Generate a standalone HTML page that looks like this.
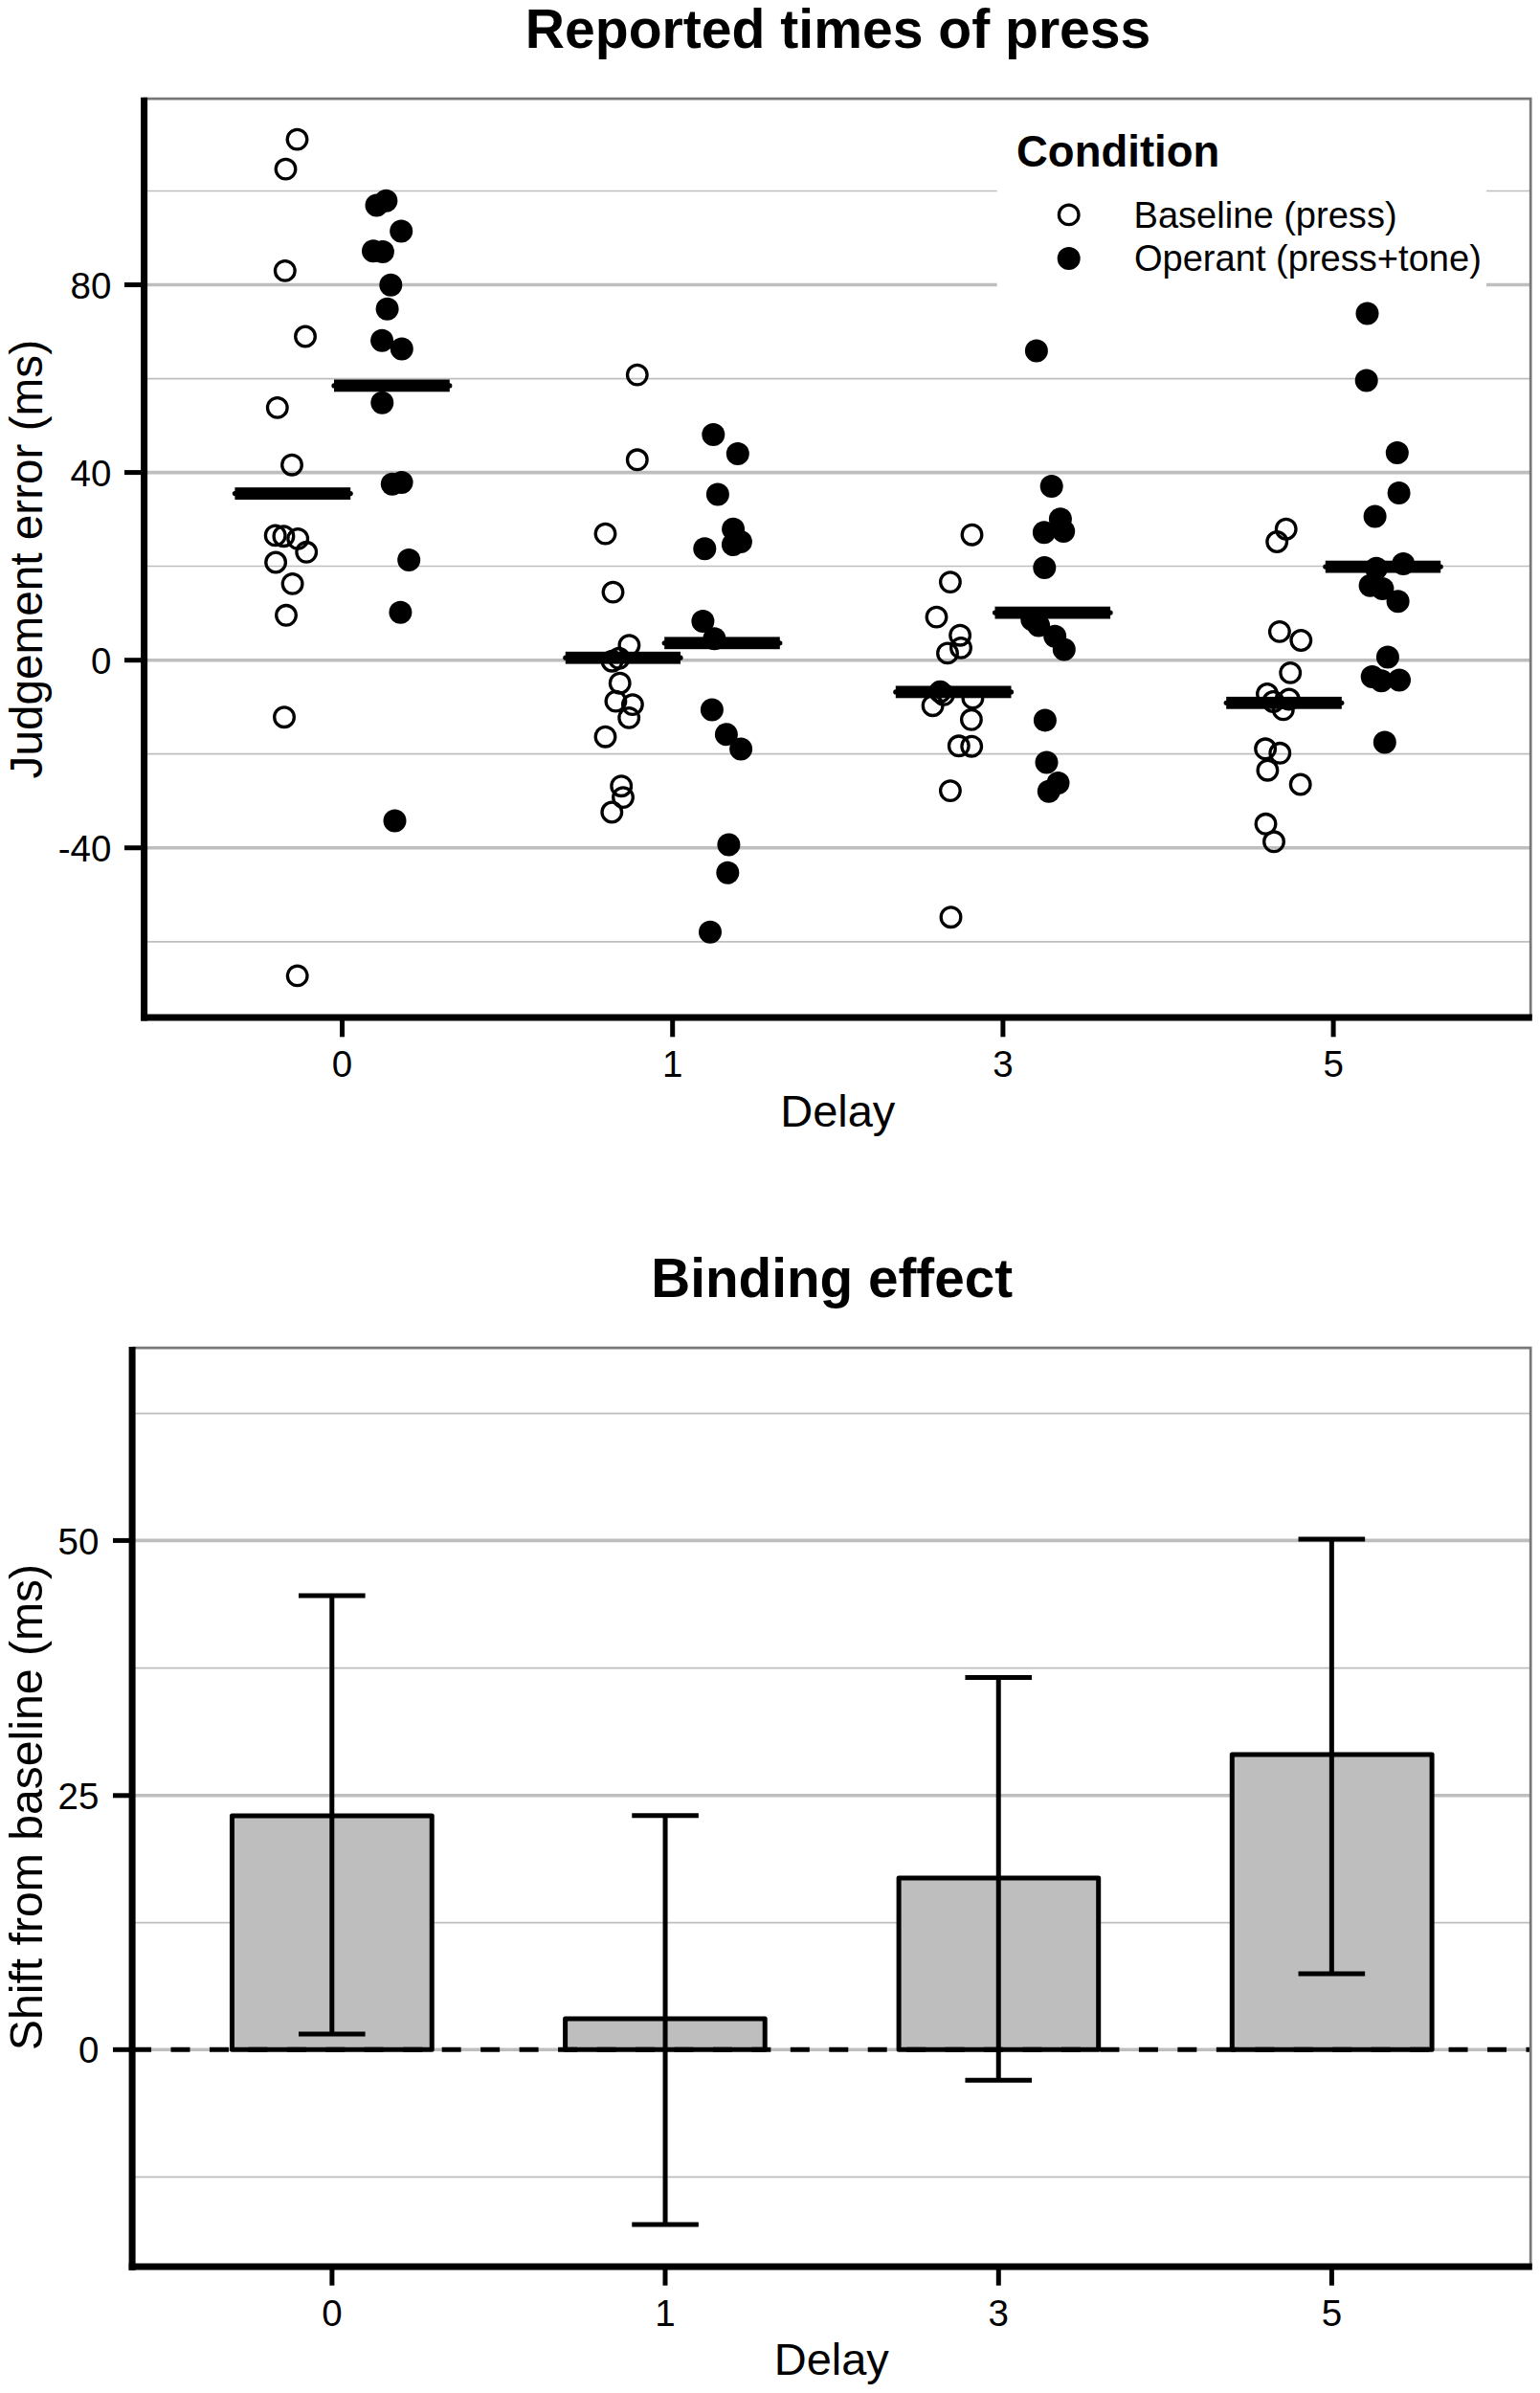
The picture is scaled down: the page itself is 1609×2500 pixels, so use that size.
<!DOCTYPE html>
<html><head><meta charset="utf-8"><title>Reported times of press / Binding effect</title>
<style>
html,body{margin:0;padding:0;background:#fff;}
svg{display:block;}
svg text{font-family:"Liberation Sans", sans-serif;fill:#000;}
</style></head>
<body>
<svg width="1609" height="2500" viewBox="0 0 1609 2500">
<rect width="1609" height="2500" fill="#fff"/>
<g id="top">
<line x1="150.6" x2="1599.2" y1="199.5" y2="199.5" stroke="#bebebe" stroke-width="1.7"/>
<line x1="150.6" x2="1599.2" y1="395.6" y2="395.6" stroke="#bebebe" stroke-width="1.7"/>
<line x1="150.6" x2="1599.2" y1="591.5" y2="591.5" stroke="#bebebe" stroke-width="1.7"/>
<line x1="150.6" x2="1599.2" y1="787.6" y2="787.6" stroke="#bebebe" stroke-width="1.7"/>
<line x1="150.6" x2="1599.2" y1="983.8" y2="983.8" stroke="#bebebe" stroke-width="1.7"/>
<line x1="150.6" x2="1599.2" y1="297.55" y2="297.55" stroke="#bebebe" stroke-width="3.6"/>
<line x1="150.6" x2="1599.2" y1="493.6" y2="493.6" stroke="#bebebe" stroke-width="3.6"/>
<line x1="150.6" x2="1599.2" y1="689.7" y2="689.7" stroke="#bebebe" stroke-width="3.6"/>
<line x1="150.6" x2="1599.2" y1="885.75" y2="885.75" stroke="#bebebe" stroke-width="3.6"/>
<rect x="1041.7" y="118" width="511.3" height="185" fill="#fff"/>
<circle cx="310.5" cy="145.6" r="10.3" fill="none" stroke="#000" stroke-width="3.3"/>
<circle cx="298.5" cy="176.6" r="10.3" fill="none" stroke="#000" stroke-width="3.3"/>
<circle cx="297.8" cy="282.9" r="10.3" fill="none" stroke="#000" stroke-width="3.3"/>
<circle cx="319.0" cy="351.5" r="10.3" fill="none" stroke="#000" stroke-width="3.3"/>
<circle cx="289.8" cy="425.9" r="10.3" fill="none" stroke="#000" stroke-width="3.3"/>
<circle cx="305.0" cy="485.7" r="10.3" fill="none" stroke="#000" stroke-width="3.3"/>
<circle cx="287.7" cy="559.4" r="10.3" fill="none" stroke="#000" stroke-width="3.3"/>
<circle cx="296.4" cy="560.2" r="10.3" fill="none" stroke="#000" stroke-width="3.3"/>
<circle cx="311.2" cy="562.9" r="10.3" fill="none" stroke="#000" stroke-width="3.3"/>
<circle cx="320.2" cy="576.8" r="10.3" fill="none" stroke="#000" stroke-width="3.3"/>
<circle cx="288.1" cy="587.5" r="10.3" fill="none" stroke="#000" stroke-width="3.3"/>
<circle cx="305.6" cy="609.9" r="10.3" fill="none" stroke="#000" stroke-width="3.3"/>
<circle cx="299.0" cy="642.8" r="10.3" fill="none" stroke="#000" stroke-width="3.3"/>
<circle cx="297.0" cy="749.2" r="10.3" fill="none" stroke="#000" stroke-width="3.3"/>
<circle cx="310.7" cy="1019.4" r="10.3" fill="none" stroke="#000" stroke-width="3.3"/>
<circle cx="665.8" cy="391.6" r="10.3" fill="none" stroke="#000" stroke-width="3.3"/>
<circle cx="665.8" cy="480.3" r="10.3" fill="none" stroke="#000" stroke-width="3.3"/>
<circle cx="632.5" cy="557.6" r="10.3" fill="none" stroke="#000" stroke-width="3.3"/>
<circle cx="640.5" cy="618.6" r="10.3" fill="none" stroke="#000" stroke-width="3.3"/>
<circle cx="657.4" cy="674.1" r="10.3" fill="none" stroke="#000" stroke-width="3.3"/>
<circle cx="646.7" cy="687.8" r="10.3" fill="none" stroke="#000" stroke-width="3.3"/>
<circle cx="639.5" cy="690.7" r="10.3" fill="none" stroke="#000" stroke-width="3.3"/>
<circle cx="647.7" cy="713.7" r="10.3" fill="none" stroke="#000" stroke-width="3.3"/>
<circle cx="643.4" cy="732.6" r="10.3" fill="none" stroke="#000" stroke-width="3.3"/>
<circle cx="660.9" cy="736.1" r="10.3" fill="none" stroke="#000" stroke-width="3.3"/>
<circle cx="657.2" cy="749.9" r="10.3" fill="none" stroke="#000" stroke-width="3.3"/>
<circle cx="632.5" cy="769.7" r="10.3" fill="none" stroke="#000" stroke-width="3.3"/>
<circle cx="649.2" cy="821.2" r="10.3" fill="none" stroke="#000" stroke-width="3.3"/>
<circle cx="651.0" cy="833.1" r="10.3" fill="none" stroke="#000" stroke-width="3.3"/>
<circle cx="639.3" cy="848.5" r="10.3" fill="none" stroke="#000" stroke-width="3.3"/>
<circle cx="1015.5" cy="558.7" r="10.3" fill="none" stroke="#000" stroke-width="3.3"/>
<circle cx="992.9" cy="608.1" r="10.3" fill="none" stroke="#000" stroke-width="3.3"/>
<circle cx="978.5" cy="644.6" r="10.3" fill="none" stroke="#000" stroke-width="3.3"/>
<circle cx="1003.1" cy="663.7" r="10.3" fill="none" stroke="#000" stroke-width="3.3"/>
<circle cx="1004.0" cy="676.9" r="10.3" fill="none" stroke="#000" stroke-width="3.3"/>
<circle cx="990.0" cy="682.4" r="10.3" fill="none" stroke="#000" stroke-width="3.3"/>
<circle cx="974.6" cy="737.2" r="10.3" fill="none" stroke="#000" stroke-width="3.3"/>
<circle cx="1016.4" cy="729.4" r="10.3" fill="none" stroke="#000" stroke-width="3.3"/>
<circle cx="1014.9" cy="751.8" r="10.3" fill="none" stroke="#000" stroke-width="3.3"/>
<circle cx="1001.8" cy="779.3" r="10.3" fill="none" stroke="#000" stroke-width="3.3"/>
<circle cx="1015.2" cy="779.7" r="10.3" fill="none" stroke="#000" stroke-width="3.3"/>
<circle cx="992.9" cy="826.1" r="10.3" fill="none" stroke="#000" stroke-width="3.3"/>
<circle cx="993.5" cy="958.2" r="10.3" fill="none" stroke="#000" stroke-width="3.3"/>
<circle cx="986.0" cy="725.8" r="10.3" fill="none" stroke="#000" stroke-width="3.3"/>
<circle cx="982.3" cy="722.7" r="10.3" fill="none" stroke="#000" stroke-width="3.3"/>
<circle cx="1343.7" cy="552.7" r="10.3" fill="none" stroke="#000" stroke-width="3.3"/>
<circle cx="1334.2" cy="566.0" r="10.3" fill="none" stroke="#000" stroke-width="3.3"/>
<circle cx="1336.9" cy="659.9" r="10.3" fill="none" stroke="#000" stroke-width="3.3"/>
<circle cx="1359.3" cy="669.0" r="10.3" fill="none" stroke="#000" stroke-width="3.3"/>
<circle cx="1348.2" cy="702.9" r="10.3" fill="none" stroke="#000" stroke-width="3.3"/>
<circle cx="1324.0" cy="725.0" r="10.3" fill="none" stroke="#000" stroke-width="3.3"/>
<circle cx="1330.3" cy="733.0" r="10.3" fill="none" stroke="#000" stroke-width="3.3"/>
<circle cx="1346.8" cy="730.5" r="10.3" fill="none" stroke="#000" stroke-width="3.3"/>
<circle cx="1340.8" cy="741.4" r="10.3" fill="none" stroke="#000" stroke-width="3.3"/>
<circle cx="1322.1" cy="782.3" r="10.3" fill="none" stroke="#000" stroke-width="3.3"/>
<circle cx="1337.3" cy="786.8" r="10.3" fill="none" stroke="#000" stroke-width="3.3"/>
<circle cx="1324.4" cy="804.7" r="10.3" fill="none" stroke="#000" stroke-width="3.3"/>
<circle cx="1358.7" cy="819.5" r="10.3" fill="none" stroke="#000" stroke-width="3.3"/>
<circle cx="1322.5" cy="860.8" r="10.3" fill="none" stroke="#000" stroke-width="3.3"/>
<circle cx="1331.0" cy="879.3" r="10.3" fill="none" stroke="#000" stroke-width="3.3"/>
<path d="M970.7 722.7 A11.6 11.6 0 0 1 993.9 722.7 Z" fill="#000"/>
<circle cx="403.4" cy="209.7" r="12" fill="#000"/>
<circle cx="393.5" cy="214.4" r="12" fill="#000"/>
<circle cx="419.2" cy="241.4" r="12" fill="#000"/>
<circle cx="390.0" cy="262.3" r="12" fill="#000"/>
<circle cx="399.9" cy="262.9" r="12" fill="#000"/>
<circle cx="408.3" cy="297.7" r="12" fill="#000"/>
<circle cx="404.6" cy="322.7" r="12" fill="#000"/>
<circle cx="399.1" cy="355.8" r="12" fill="#000"/>
<circle cx="419.8" cy="364.6" r="12" fill="#000"/>
<circle cx="399.3" cy="420.7" r="12" fill="#000"/>
<circle cx="419.6" cy="503.9" r="12" fill="#000"/>
<circle cx="409.8" cy="505.8" r="12" fill="#000"/>
<circle cx="427.2" cy="585.1" r="12" fill="#000"/>
<circle cx="418.4" cy="639.7" r="12" fill="#000"/>
<circle cx="412.5" cy="857.5" r="12" fill="#000"/>
<circle cx="745.3" cy="454.0" r="12" fill="#000"/>
<circle cx="770.8" cy="474.0" r="12" fill="#000"/>
<circle cx="749.9" cy="516.5" r="12" fill="#000"/>
<circle cx="766.1" cy="552.7" r="12" fill="#000"/>
<circle cx="773.9" cy="566.0" r="12" fill="#000"/>
<circle cx="765.9" cy="569.1" r="12" fill="#000"/>
<circle cx="736.3" cy="573.2" r="12" fill="#000"/>
<circle cx="734.4" cy="649.0" r="12" fill="#000"/>
<circle cx="746.4" cy="667.3" r="12" fill="#000"/>
<circle cx="743.9" cy="741.5" r="12" fill="#000"/>
<circle cx="758.9" cy="767.2" r="12" fill="#000"/>
<circle cx="774.1" cy="782.6" r="12" fill="#000"/>
<circle cx="761.4" cy="882.4" r="12" fill="#000"/>
<circle cx="760.3" cy="911.8" r="12" fill="#000"/>
<circle cx="742.0" cy="973.8" r="12" fill="#000"/>
<circle cx="1082.9" cy="366.6" r="12" fill="#000"/>
<circle cx="1098.7" cy="508.0" r="12" fill="#000"/>
<circle cx="1107.9" cy="542.3" r="12" fill="#000"/>
<circle cx="1090.9" cy="556.3" r="12" fill="#000"/>
<circle cx="1111.2" cy="555.1" r="12" fill="#000"/>
<circle cx="1091.3" cy="593.1" r="12" fill="#000"/>
<circle cx="1078.3" cy="647.3" r="12" fill="#000"/>
<circle cx="1085.1" cy="653.5" r="12" fill="#000"/>
<circle cx="1102.2" cy="664.8" r="12" fill="#000"/>
<circle cx="1111.8" cy="678.5" r="12" fill="#000"/>
<circle cx="1091.9" cy="752.4" r="12" fill="#000"/>
<circle cx="1093.5" cy="796.5" r="12" fill="#000"/>
<circle cx="1105.5" cy="817.9" r="12" fill="#000"/>
<circle cx="1095.8" cy="826.7" r="12" fill="#000"/>
<circle cx="1428.5" cy="327.6" r="12" fill="#000"/>
<circle cx="1427.7" cy="397.5" r="12" fill="#000"/>
<circle cx="1459.8" cy="472.9" r="12" fill="#000"/>
<circle cx="1461.6" cy="514.9" r="12" fill="#000"/>
<circle cx="1436.6" cy="539.5" r="12" fill="#000"/>
<circle cx="1466.2" cy="589.0" r="12" fill="#000"/>
<circle cx="1438.0" cy="593.7" r="12" fill="#000"/>
<circle cx="1431.6" cy="611.8" r="12" fill="#000"/>
<circle cx="1444.4" cy="615.1" r="12" fill="#000"/>
<circle cx="1460.6" cy="628.3" r="12" fill="#000"/>
<circle cx="1449.9" cy="686.5" r="12" fill="#000"/>
<circle cx="1433.7" cy="707.0" r="12" fill="#000"/>
<circle cx="1443.3" cy="711.2" r="12" fill="#000"/>
<circle cx="1462.0" cy="710.4" r="12" fill="#000"/>
<circle cx="1446.8" cy="775.5" r="12" fill="#000"/>
<rect x="245.4" y="509.2" width="120.8" height="12.8" fill="#000"/>
<line x1="245.4" x2="366.2" y1="515.6" y2="515.6" stroke="#000" stroke-width="5.2" stroke-linecap="round"/>
<rect x="349.0" y="396.5" width="120.8" height="12.8" fill="#000"/>
<line x1="349.0" x2="469.8" y1="402.9" y2="402.9" stroke="#000" stroke-width="5.2" stroke-linecap="round"/>
<rect x="590.8" y="680.8" width="120.2" height="12.8" fill="#000"/>
<line x1="590.8" x2="711.0" y1="687.2" y2="687.2" stroke="#000" stroke-width="5.2" stroke-linecap="round"/>
<rect x="694.2" y="665.4" width="120.6" height="12.8" fill="#000"/>
<line x1="694.2" x2="814.8" y1="671.8" y2="671.8" stroke="#000" stroke-width="5.2" stroke-linecap="round"/>
<rect x="935.8" y="716.5" width="120.7" height="12.8" fill="#000"/>
<line x1="935.8" x2="1056.5" y1="722.9" y2="722.9" stroke="#000" stroke-width="5.2" stroke-linecap="round"/>
<rect x="1039.5" y="633.7" width="120.6" height="12.8" fill="#000"/>
<line x1="1039.5" x2="1160.1" y1="640.1" y2="640.1" stroke="#000" stroke-width="5.2" stroke-linecap="round"/>
<rect x="1281.2" y="727.9" width="120.6" height="12.8" fill="#000"/>
<line x1="1281.2" x2="1401.8" y1="734.3" y2="734.3" stroke="#000" stroke-width="5.2" stroke-linecap="round"/>
<rect x="1384.8" y="585.7" width="120.4" height="12.8" fill="#000"/>
<line x1="1384.8" x2="1505.2" y1="592.1" y2="592.1" stroke="#000" stroke-width="5.2" stroke-linecap="round"/>
<path d="M150.6 103.2 H1599.2 V1063.1" fill="none" stroke="#787878" stroke-width="2.7"/>
<line x1="150.6" x2="150.6" y1="101.8" y2="1066.6" stroke="#000" stroke-width="7"/>
<line x1="147.1" x2="1600.8" y1="1063.1" y2="1063.1" stroke="#000" stroke-width="7"/>
<line x1="130" x2="147.5" y1="297.55" y2="297.55" stroke="#000" stroke-width="5"/>
<line x1="130" x2="147.5" y1="493.6" y2="493.6" stroke="#000" stroke-width="5"/>
<line x1="130" x2="147.5" y1="689.7" y2="689.7" stroke="#000" stroke-width="5"/>
<line x1="130" x2="147.5" y1="885.75" y2="885.75" stroke="#000" stroke-width="5"/>
<line x1="357.5" x2="357.5" y1="1066" y2="1083.3" stroke="#000" stroke-width="5"/>
<line x1="702.7" x2="702.7" y1="1066" y2="1083.3" stroke="#000" stroke-width="5"/>
<line x1="1047.9" x2="1047.9" y1="1066" y2="1083.3" stroke="#000" stroke-width="5"/>
<line x1="1393.1" x2="1393.1" y1="1066" y2="1083.3" stroke="#000" stroke-width="5"/>
<text x="116.4" y="311.7" font-size="38.5" text-anchor="end">80</text>
<text x="116.4" y="507.7" font-size="38.5" text-anchor="end">40</text>
<text x="116.4" y="703.8" font-size="38.5" text-anchor="end">0</text>
<text x="116.4" y="899.9" font-size="38.5" text-anchor="end">-40</text>
<text x="357.5" y="1125.0" font-size="38.5" text-anchor="middle">0</text>
<text x="702.7" y="1125.0" font-size="38.5" text-anchor="middle">1</text>
<text x="1047.9" y="1125.0" font-size="38.5" text-anchor="middle">3</text>
<text x="1393.1" y="1125.0" font-size="38.5" text-anchor="middle">5</text>
<text x="875.3" y="1176.6" font-size="47" text-anchor="middle">Delay</text>
<text transform="translate(44.2,584.2) rotate(-90)" font-size="47.7" text-anchor="middle">Judgement error (ms)</text>
<text x="875.6" y="50.2" font-size="57.1" font-weight="bold" text-anchor="middle">Reported times of press</text>
<text x="1062" y="173.9" font-size="45.5" font-weight="bold">Condition</text>
<circle cx="1116.7" cy="224.4" r="10.3" fill="none" stroke="#000" stroke-width="3.3"/>
<circle cx="1116.7" cy="270.1" r="12" fill="#000"/>
<text x="1184.5" y="238.2" font-size="38.1">Baseline (press)</text>
<text x="1184.9" y="283.4" font-size="38.1">Operant (press+tone)</text>
</g>
<g id="bottom">
<line x1="138.1" x2="1599.2" y1="1476.6" y2="1476.6" stroke="#bebebe" stroke-width="1.7"/>
<line x1="138.1" x2="1599.2" y1="1742.6" y2="1742.6" stroke="#bebebe" stroke-width="1.7"/>
<line x1="138.1" x2="1599.2" y1="2008.7" y2="2008.7" stroke="#bebebe" stroke-width="1.7"/>
<line x1="138.1" x2="1599.2" y1="2274.4" y2="2274.4" stroke="#bebebe" stroke-width="1.7"/>
<line x1="138.1" x2="1599.2" y1="1609.4" y2="1609.4" stroke="#bebebe" stroke-width="3.6"/>
<line x1="138.1" x2="1599.2" y1="1875.8" y2="1875.8" stroke="#bebebe" stroke-width="3.6"/>
<line x1="138.1" x2="1599.2" y1="2141.3" y2="2141.3" stroke="#bebebe" stroke-width="3.6"/>
<rect x="242.45000000000002" y="1897.0" width="208.8" height="244.3" fill="#bebebe" stroke="#000" stroke-width="5" stroke-linejoin="round"/>
<rect x="590.6" y="2109.0" width="208.6" height="32.3" fill="#bebebe" stroke="#000" stroke-width="5" stroke-linejoin="round"/>
<rect x="939.1000000000001" y="1962.0" width="208.6" height="179.3" fill="#bebebe" stroke="#000" stroke-width="5" stroke-linejoin="round"/>
<rect x="1287.3" y="1833.1" width="208.8" height="308.2" fill="#bebebe" stroke="#000" stroke-width="5" stroke-linejoin="round"/>
<path d="M312.0 1667.1 H381.6 M346.8 1667.1 V2124.9 M312.0 2124.9 H381.6" fill="none" stroke="#000" stroke-width="5"/>
<path d="M660.25 1896.7 H729.8499999999999 M695.05 1896.7 V2324.1 M660.25 2324.1 H729.8499999999999" fill="none" stroke="#000" stroke-width="5"/>
<path d="M1008.45 1752.6 H1078.05 M1043.25 1752.6 V2173.2 M1008.45 2173.2 H1078.05" fill="none" stroke="#000" stroke-width="5"/>
<path d="M1356.55 1607.9 H1426.1499999999999 M1391.35 1607.9 V2061.9 M1356.55 2061.9 H1426.1499999999999" fill="none" stroke="#000" stroke-width="5"/>
<line x1="138.05" x2="1599.2" y1="2141.3" y2="2141.3" stroke="#000" stroke-width="5" stroke-dasharray="20 20.456"/>
<path d="M138.1 1408.2 H1599.2 V2367.9" fill="none" stroke="#787878" stroke-width="2.7"/>
<line x1="138.1" x2="138.1" y1="1406.9" y2="2371.8" stroke="#000" stroke-width="7"/>
<line x1="134.6" x2="1600.8" y1="2367.9" y2="2367.9" stroke="#000" stroke-width="7"/>
<line x1="118" x2="135" y1="1609.4" y2="1609.4" stroke="#000" stroke-width="5"/>
<line x1="118" x2="135" y1="1875.8" y2="1875.8" stroke="#000" stroke-width="5"/>
<line x1="118" x2="135" y1="2141.3" y2="2141.3" stroke="#000" stroke-width="5"/>
<line x1="346.9" x2="346.9" y1="2371" y2="2387.7" stroke="#000" stroke-width="5"/>
<line x1="695.0" x2="695.0" y1="2371" y2="2387.7" stroke="#000" stroke-width="5"/>
<line x1="1043.3" x2="1043.3" y1="2371" y2="2387.7" stroke="#000" stroke-width="5"/>
<line x1="1391.4" x2="1391.4" y1="2371" y2="2387.7" stroke="#000" stroke-width="5"/>
<text x="103.4" y="1623.5" font-size="38.5" text-anchor="end">50</text>
<text x="103.4" y="1889.9" font-size="38.5" text-anchor="end">25</text>
<text x="103.4" y="2155.4" font-size="38.5" text-anchor="end">0</text>
<text x="346.9" y="2429.8" font-size="38.5" text-anchor="middle">0</text>
<text x="695.0" y="2429.8" font-size="38.5" text-anchor="middle">1</text>
<text x="1043.3" y="2429.8" font-size="38.5" text-anchor="middle">3</text>
<text x="1391.4" y="2429.8" font-size="38.5" text-anchor="middle">5</text>
<text x="868.8" y="2481.3" font-size="47" text-anchor="middle">Delay</text>
<text transform="translate(44.4,1888) rotate(-90)" font-size="48.15" text-anchor="middle">Shift from baseline (ms)</text>
<text x="869.2" y="1355.3" font-size="56.7" font-weight="bold" text-anchor="middle">Binding effect</text>
</g>
</svg>
</body></html>
